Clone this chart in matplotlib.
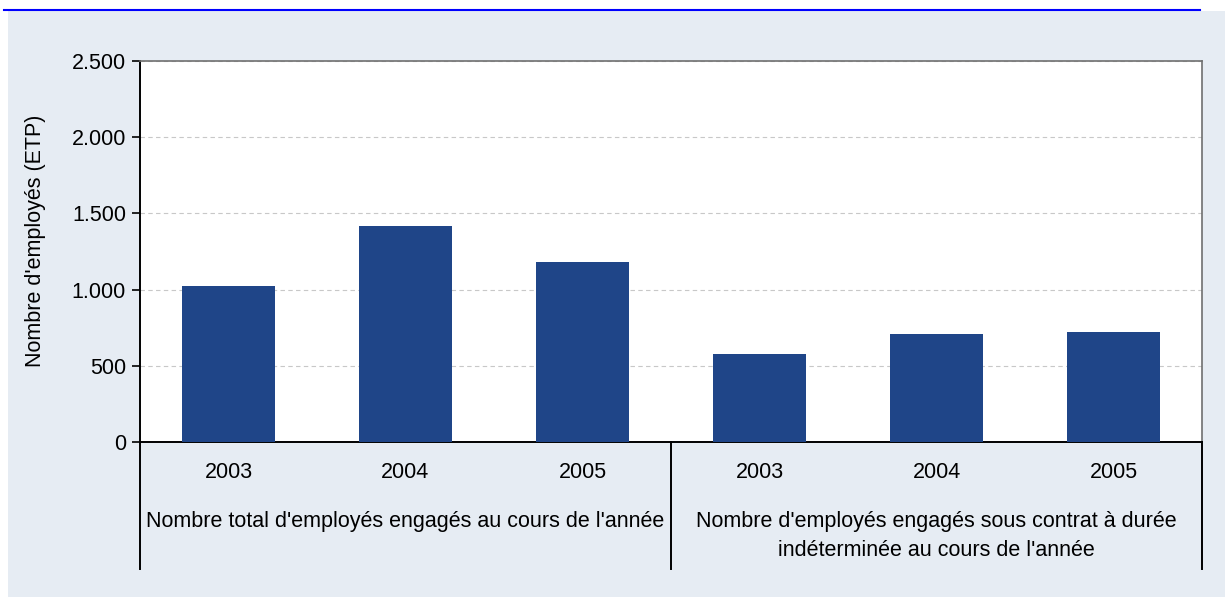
import matplotlib
matplotlib.use("Agg")
import matplotlib.pyplot as plt
from matplotlib.ticker import FuncFormatter, MultipleLocator
from matplotlib.patches import Rectangle
from matplotlib.lines import Line2D

plt.rcParams['font.family'] = ['Liberation Sans', 'DejaVu Sans']

years = ["2003", "2004", "2005", "2003", "2004", "2005"]
values = [1025, 1415, 1180, 580, 710, 722]
groups = ["Nombre total d'employés engagés au cours de l'année",
          "Nombre d'employés engagés sous contrat à durée\nindéterminée au cours de l'année"]
ylabel = "Nombre d'employés (ETP)"

W, H = 1225, 597
FS = 15.5
fig = plt.figure(figsize=(W / 100, H / 100), dpi=100)
fig.patch.set_facecolor('white')

# background panel and top blue line
fig.patches.append(Rectangle((8 / W, 0), 1 - 8 / W, 1 - 11 / H, transform=fig.transFigure,
                             facecolor='#E6ECF3', edgecolor='none', zorder=-10))
fig.lines.append(Line2D([4 / W, 1200 / W], [1 - 10 / H, 1 - 10 / H], transform=fig.transFigure,
                        color='#0000FF', lw=1.5, zorder=-5))

ax = fig.add_axes([140 / W, 1 - 442 / H, (1202 - 140) / W, (442 - 61) / H])
ax.set_facecolor('white')
x = list(range(len(values)))
ax.bar(x, values, width=0.52, color='#1F4588', zorder=3)
ax.set_xlim(-0.5, len(values) - 0.5)
ax.set_ylim(0, 2500)
ax.yaxis.set_major_locator(MultipleLocator(500))
ax.yaxis.set_major_formatter(FuncFormatter(lambda v, p: f"{int(v):,}".replace(",", ".")))
ax.grid(axis='y', color='#C8C8C8', linestyle=(0, (4, 3)), lw=0.8, zorder=0)
ax.set_axisbelow(True)
ax.set_xticks([])
ax.tick_params(axis='y', direction='out', length=6, width=1.2, labelsize=FS, pad=4, colors='black')
for s in ['top', 'right']:
    ax.spines[s].set_color('#707070')
    ax.spines[s].set_linewidth(1.2)
for s in ['left', 'bottom']:
    ax.spines[s].set_color('black')
    ax.spines[s].set_linewidth(1.4)

ph = 442 - 61
tr = ax.get_xaxis_transform()
for xi, yr in zip(x, years):
    ax.text(xi, -30 / ph, yr, transform=tr, ha='center', va='center', fontsize=FS)
ax.text(1, -80 / ph, groups[0], transform=tr, ha='center', va='center', fontsize=FS)
ax.text(4, -94 / ph, groups[1], transform=tr, ha='center', va='center', fontsize=FS,
        linespacing=1.45)
for bx in [-0.5, 2.5, 5.5]:
    ax.plot([bx, bx], [0, -(569 - 442) / ph], transform=tr, color='black', lw=1.4,
            clip_on=False, zorder=5)

fig.text(36 / W, 1 - 241 / H, ylabel, rotation=90, ha='center', va='center', fontsize=FS)

fig.savefig("out.png", dpi=100)
